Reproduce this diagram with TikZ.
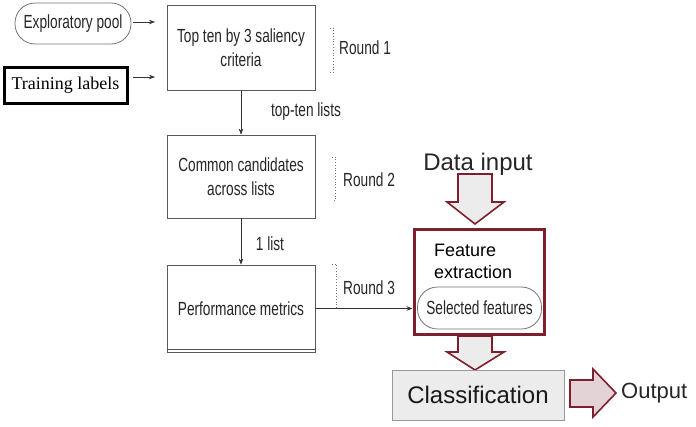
\documentclass[tikz,border=0pt]{standalone}
\usepackage{fontspec}
\setmainfont{Liberation Sans}
\newfontfamily\narrowf[FakeStretch=0.72]{Liberation Sans}
\newfontfamily\timesf{Liberation Serif}
\usetikzlibrary{arrows.meta}
\definecolor{dred}{HTML}{7D1F2C}
\definecolor{lgray}{HTML}{ECECEC}
\definecolor{lpink}{HTML}{E4D3D6}
\begin{document}
\begin{tikzpicture}[x=1pt,y=-1pt,
  nar/.style={font=\narrowf\fontsize{19}{24}\selectfont, align=center, text=black!85},
  flowbox/.style={draw=black!65, line width=0.8pt, fill=white, minimum width=148pt, inner sep=0pt},
  arr/.style={draw=black!80, line width=0.7pt, -{Stealth[length=6pt,width=4.5pt]}},
  brk/.style={draw=black!55, dotted, line width=0.8pt},
  blockarrow/.style={draw=dred, line width=1.6pt, fill=lgray, line join=miter}
]
\useasboundingbox (0,0) rectangle (696,426);

% left inputs
\node[draw=black!55, line width=0.8pt, rounded corners=20pt, minimum width=116pt, minimum height=41pt, inner sep=0pt, nar] (pool) at (73,23.5) {Exploratory pool};
\node[draw=black, line width=3pt, minimum width=123pt, minimum height=36pt, inner sep=0pt, font=\timesf\fontsize{18}{20}\selectfont] (train) at (65.5,85) {Training labels};

% main flow boxes
\node[flowbox, minimum height=85pt, nar] (box1) at (241,48) {Top ten by 3 saliency\\criteria};
\node[flowbox, minimum height=83pt, nar] (box2) at (241,176.5) {Common candidates\\across lists};
\node[flowbox, minimum height=87pt, nar] (box3) at (241,308.5) {Performance metrics};
\draw[black!70, line width=1pt] (box3.south west) ++(0,-2.5) -- ++(148,0);

\coordinate (in1) at (155,22);
\coordinate (in2) at (155,77);
\draw[arr] (133,22) -- (in1);
\draw[arr] (133,77) -- (in2);

\draw[arr] (box1.south) -- (box2.north);
\draw[arr] (box2.south) -- (box3.north);
\node[nar, anchor=center] (lab1) at (306,112) {top-ten lists};
\node[nar, anchor=center] (lab2) at (270,244) {1 list};

% round brackets
\draw[brk] (330,28) -- (333.5,28) -- (333.5,72) -- (330,72);
\node[nar, anchor=west, inner sep=0pt] (r1) at (339,48) {Round 1};
\draw[brk] (332,157) -- (335.5,157) -- (335.5,200) -- (332,200);
\node[nar, anchor=west, inner sep=0pt] (r2) at (343,180) {Round 2};
\draw[brk] (332,264) -- (336.5,264) -- (336.5,308);
\node[nar, anchor=west, inner sep=0pt] (r3) at (343,288) {Round 3};

% feature extraction
\node[draw=dred, line width=3pt, minimum width=130pt, minimum height=105pt, inner sep=0pt] (feat) at (479,281.5) {};
\node[anchor=west, align=left, font=\fontsize{18}{22}\selectfont, inner sep=0pt] (ftxt) at (434,261) {Feature\\extraction};
\node[draw=black!55, line width=0.8pt, fill=white, rounded corners=20pt, minimum width=124pt, minimum height=42pt, inner sep=0pt, nar] (sel) at (479.5,308) {Selected features};
\draw[arr] (box3.east) -- (box3.east -| feat.west);

% data input
\node[font=\fontsize{24}{28}\selectfont, text=black!85] (data) at (478,164) {Data input};
\draw[blockarrow] (458,174) -- (492,174) -- (492,202) -- (504,202) -- (475,224) -- (447,202) -- (458,202) -- cycle;
\draw[blockarrow] (458,336) -- (492,336) -- (492,352) -- (504,352) -- (475,370) -- (447,352) -- (458,352) -- cycle;

% classification
\node[draw=black!40, line width=0.8pt, fill=lgray, minimum width=172pt, minimum height=50pt, inner sep=0pt, font=\fontsize{24}{28}\selectfont, text=black!90] (cls) at (478,395) {Classification};
\draw[blockarrow, fill=lpink] (570,380) -- (593,380) -- (593,369) -- (616,393) -- (593,417) -- (593,407) -- (570,407) -- cycle;
\node[anchor=west, font=\fontsize{22}{26}\selectfont, inner sep=0pt, text=black!85] (out) at (621,393) {Output};
\end{tikzpicture}
\end{document}
